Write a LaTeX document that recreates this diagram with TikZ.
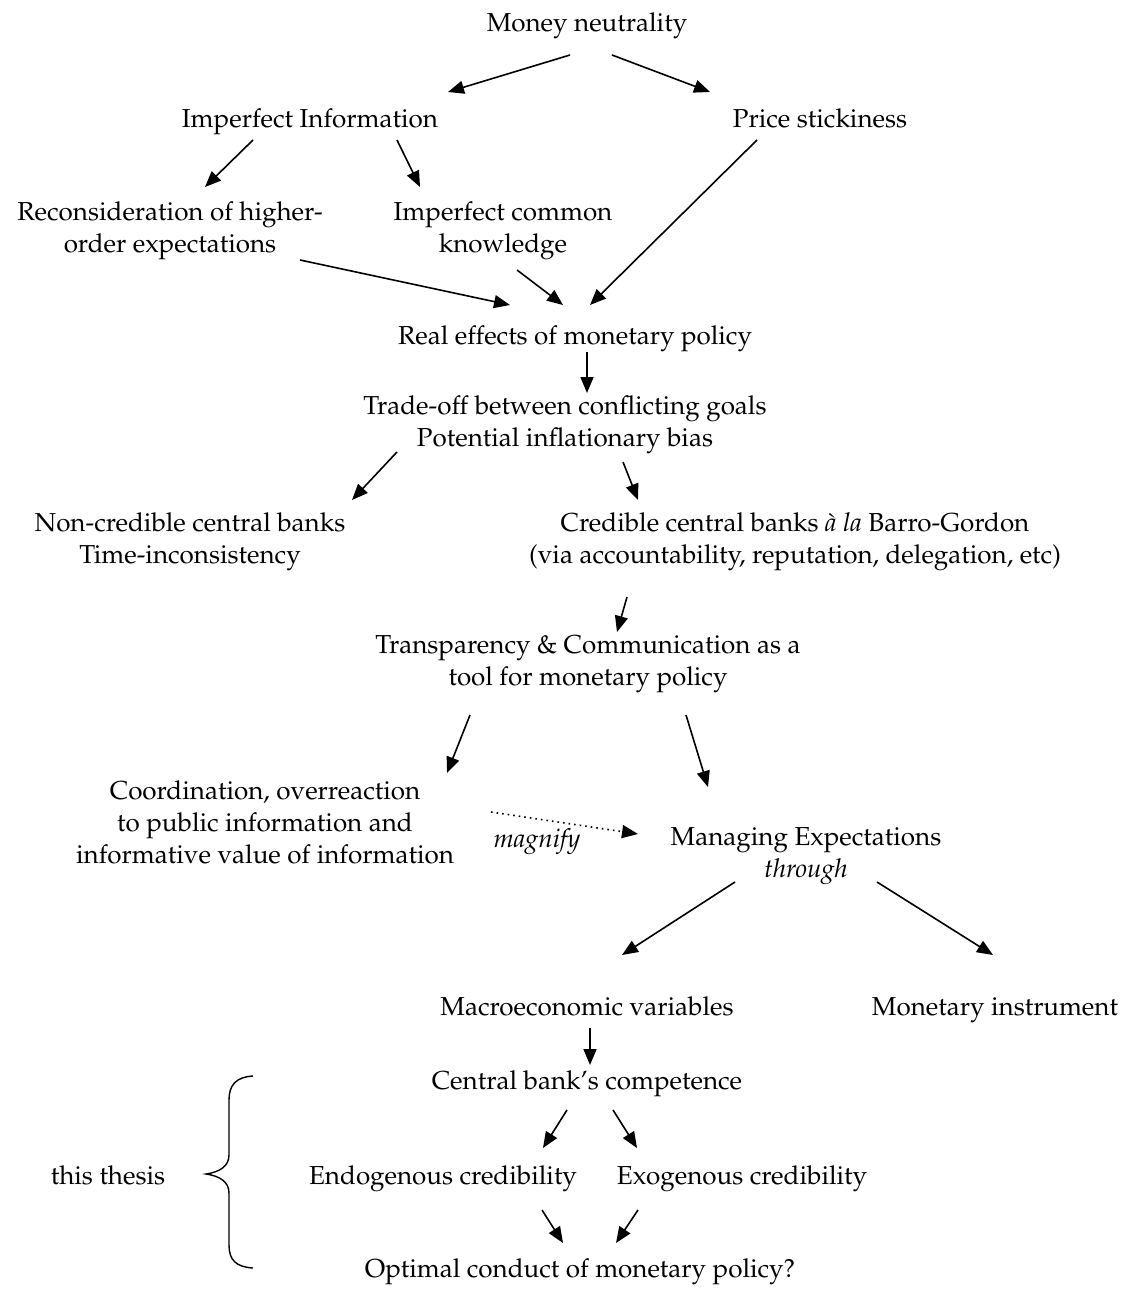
\documentclass[tikz,border=0pt]{standalone}
\usepackage[T1]{fontenc}
\usepackage{mathpazo}
\usetikzlibrary{arrows.meta}
\newcommand\mystrut{\rule[-3.6pt]{0pt}{16.6pt}}
\begin{document}
\begin{tikzpicture}[x=0.5pt,y=-0.5pt,
  lbl/.style={align=center,inner sep=0pt,font=\fontsize{13}{16}\selectfont,
    execute at begin node=\mystrut, execute at end node=\mystrut},
  arr/.style={-{Triangle[length=8pt,width=6.5pt]},line width=0.8pt},
  dotarr/.style={arr,dotted}]
\useasboundingbox (0,0) rectangle (1130,1289);
\node[lbl] (money) at (587,22) {Money neutrality};
\node[lbl] (imperf) at (310,118) {Imperfect Information};
\node[lbl] (price) at (820,118) {Price stickiness};
\node[lbl] (recons) at (170,231) {Reconsideration of higher-\\order expectations};
\node[lbl] (ickn) at (503,231) {Imperfect common\\knowledge};
\node[lbl] (real) at (575,335) {Real effects of monetary policy};
\node[lbl] (trade) at (565,425) {Trade-off between conflicting goals\\Potential inflationary bias};
\node[lbl] (noncred) at (190,542) {Non-credible central banks\\Time-inconsistency};
\node[lbl] (cred) at (795,542) {Credible central banks \textit{\`a la} Barro-Gordon\\(via accountability, reputation, delegation, etc)};
\node[lbl] (transp) at (588,664) {Transparency \& Communication as a\\tool for monetary policy};
\node[lbl] (coord) at (265,826) {Coordination, overreaction\\to public information and\\informative value of information};
\node[lbl] (magnify) at (537,838) {\textit{magnify}};
\node[lbl] (managing) at (806,856) {Managing Expectations\\\textit{through}};
\node[lbl] (macro) at (587,1006) {Macroeconomic variables};
\node[lbl] (monins) at (995,1006) {Monetary instrument};
\node[lbl] (cbc) at (587,1080) {Central bank's competence};
\node[lbl] (endo) at (443,1175) {Endogenous credibility};
\node[lbl] (exo) at (742,1175) {Exogenous credibility};
\node[lbl] (optimal) at (580,1268) {Optimal conduct of monetary policy?};
\node[lbl] (thesis) at (108,1175) {this thesis};

\draw[arr] ([shift={(-17,33)}]money.center) -- ([shift={(138,-26)}]imperf.center);
\draw[arr] ([shift={(25,33)}]money.center) -- ([shift={(-110,-26)}]price.center);
\draw[arr] ([shift={(-57,22)}]imperf.center) -- ([shift={(35,-44)}]recons.center);
\draw[arr] ([shift={(87,22)}]imperf.center) -- ([shift={(-83,-44)}]ickn.center);
\draw[arr] ([shift={(-63,22)}]price.center) -- ([shift={(15,-30)}]real.center);
\draw[arr] ([shift={(130,29)}]recons.center) -- ([shift={(-65,-30)}]real.center);
\draw[arr] ([shift={(14,39)}]ickn.center) -- ([shift={(-12,-30)}]real.center);
\draw[arr] ([shift={(12,17)}]real.center) -- ([shift={(22,-32)}]trade.center);
\draw[arr] ([shift={(-168,27)}]trade.center) -- ([shift={(162,-42)}]noncred.center);
\draw[arr] ([shift={(58,37)}]trade.center) -- ([shift={(-157,-42)}]cred.center);
\draw[arr] ([shift={(-168,55)}]cred.center) -- ([shift={(29,-32)}]transp.center);
\draw[arr] ([shift={(-118,51)}]transp.center) -- ([shift={(182,-53)}]coord.center);
\draw[arr] ([shift={(98,51)}]transp.center) -- ([shift={(-98,-69)}]managing.center);
\draw[dotarr] ([shift={(226,-14)}]coord.center) -- ([shift={(-168,-22)}]managing.center);
\draw[arr] ([shift={(-71,26)}]managing.center) -- ([shift={(35,-51)}]macro.center);
\draw[arr] ([shift={(71,26)}]managing.center) -- ([shift={(-2,-51)}]monins.center);
\draw[arr] ([shift={(3,22)}]macro.center) -- ([shift={(3,-15)}]cbc.center);
\draw[arr] ([shift={(-20,30)}]cbc.center) -- ([shift={(100,-27)}]endo.center);
\draw[arr] ([shift={(26,30)}]cbc.center) -- ([shift={(-105,-27)}]exo.center);
\draw[arr] ([shift={(99,35)}]endo.center) -- ([shift={(-17,-25)}]optimal.center);
\draw[arr] ([shift={(-104,35)}]exo.center) -- ([shift={(36,-25)}]optimal.center);

\draw[line width=0.7pt] (253,1076) .. controls (236,1077) and (229,1085) .. (229,1100)
  -- (229,1155) .. controls (229,1166) and (220,1172) .. (206,1174)
  .. controls (220,1176) and (229,1182) .. (229,1193)
  -- (229,1245) .. controls (229,1260) and (236,1267) .. (253,1268);
\end{tikzpicture}
\end{document}
